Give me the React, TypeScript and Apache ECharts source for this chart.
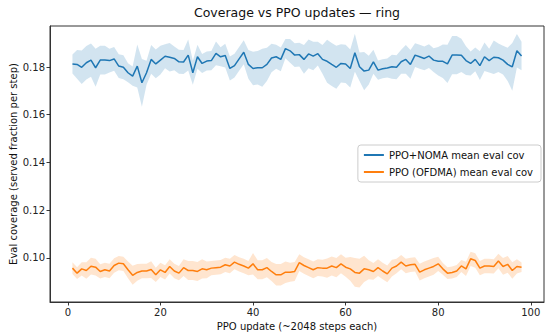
import React, { useEffect, useRef } from "react";
import * as echarts from "echarts";

const updates: number[] = Array.from({ length: 98 }, (_, i) => i + 1);

const nomaMean: number[] = [
  0.1813, 0.1811, 0.1799, 0.1818, 0.1829, 0.1797, 0.1829, 0.1829, 0.1827, 0.1834,
  0.1804, 0.1799, 0.1776, 0.1762, 0.1804, 0.1734, 0.1776, 0.1832, 0.1813, 0.1829,
  0.1845, 0.1841, 0.1836, 0.1822, 0.1821, 0.185, 0.1776, 0.1843, 0.1815, 0.1825,
  0.1827, 0.1857, 0.1843, 0.1848, 0.1794, 0.1806, 0.1834, 0.1862, 0.1811, 0.1794,
  0.1797, 0.1797, 0.1811, 0.1838, 0.1843, 0.1832, 0.1877, 0.1868, 0.185, 0.1852,
  0.1832, 0.1855, 0.1846, 0.1856, 0.1832, 0.1824, 0.1811, 0.1799, 0.1815, 0.1813,
  0.1794, 0.186, 0.1801, 0.1783, 0.1787, 0.1822, 0.1787, 0.1793, 0.1796, 0.1801,
  0.1799, 0.1822, 0.1832, 0.1811, 0.185, 0.1843, 0.1836, 0.1846, 0.1829, 0.1824,
  0.1824, 0.1813, 0.185, 0.185, 0.1849, 0.1827, 0.1815, 0.1832, 0.1806, 0.1843,
  0.1827, 0.1841, 0.1839, 0.1829, 0.1811, 0.1801, 0.1868, 0.1846,
];

const nomaStd: number[] = [
  0.004, 0.006, 0.007, 0.007, 0.007, 0.008, 0.006, 0.006, 0.005, 0.005,
  0.005, 0.005, 0.004, 0.004, 0.009, 0.01, 0.005, 0.006, 0.006, 0.006,
  0.005, 0.006, 0.005, 0.005, 0.005, 0.0065, 0.005, 0.005, 0.004, 0.004,
  0.004, 0.005, 0.004, 0.005, 0.005, 0.005, 0.005, 0.005, 0.006, 0.007,
  0.007, 0.008, 0.007, 0.006, 0.005, 0.005, 0.004, 0.005, 0.005, 0.005,
  0.006, 0.006, 0.006, 0.005, 0.006, 0.009, 0.009, 0.009, 0.008, 0.008,
  0.008, 0.008, 0.006, 0.008, 0.006, 0.005, 0.004, 0.004, 0.004, 0.005,
  0.005, 0.005, 0.006, 0.006, 0.005, 0.005, 0.005, 0.005, 0.005, 0.006,
  0.007, 0.008, 0.008, 0.008, 0.007, 0.006, 0.005, 0.005, 0.006, 0.006,
  0.005, 0.007, 0.006, 0.006, 0.007, 0.01, 0.007, 0.006,
];

const ofdmaMean: number[] = [
  0.0957, 0.0936, 0.0954, 0.0947, 0.0965, 0.0961, 0.0943, 0.095, 0.0945, 0.0968,
  0.0978, 0.0975, 0.095, 0.0927, 0.0939, 0.0945, 0.0945, 0.0951, 0.0929, 0.095,
  0.0939, 0.0964, 0.0945, 0.0936, 0.0959, 0.0947, 0.0947, 0.0943, 0.0954, 0.095,
  0.0957, 0.0959, 0.0961, 0.0971, 0.0966, 0.0982, 0.0973, 0.0966, 0.0957, 0.0975,
  0.095, 0.095, 0.0959, 0.0943, 0.0929, 0.0929, 0.094, 0.094, 0.0943, 0.098,
  0.0968, 0.0959, 0.095, 0.0959, 0.0957, 0.0957, 0.0966, 0.0959, 0.0975, 0.0961,
  0.0954, 0.0939, 0.0936, 0.0954, 0.095, 0.0943, 0.0959, 0.0945, 0.0933, 0.0957,
  0.0966, 0.0982, 0.0966, 0.0971, 0.0973, 0.094, 0.095, 0.0957, 0.0964, 0.0975,
  0.0954, 0.0936, 0.0939, 0.0945, 0.0966, 0.0954, 0.0996, 0.0989, 0.0957, 0.0966,
  0.0966, 0.0964, 0.0987, 0.0964, 0.0973, 0.0947, 0.0964, 0.0961,
];

const ofdmaStd: number[] = [
  0.0025, 0.0025, 0.0028, 0.0035, 0.0035, 0.0035, 0.003, 0.003, 0.003, 0.003,
  0.003, 0.003, 0.0035, 0.004, 0.0035, 0.003, 0.003, 0.0035, 0.003, 0.003,
  0.003, 0.003, 0.003, 0.003, 0.0035, 0.004, 0.004, 0.004, 0.004, 0.0035,
  0.003, 0.003, 0.003, 0.003, 0.003, 0.003, 0.003, 0.003, 0.003, 0.0045,
  0.004, 0.004, 0.004, 0.004, 0.0045, 0.0045, 0.0045, 0.004, 0.004, 0.0035,
  0.0035, 0.0035, 0.0035, 0.0035, 0.0035, 0.004, 0.004, 0.004, 0.004, 0.004,
  0.005, 0.006, 0.006, 0.0055, 0.004, 0.0035, 0.0035, 0.0035, 0.0035, 0.0035,
  0.003, 0.003, 0.003, 0.003, 0.003, 0.0035, 0.0035, 0.0035, 0.0035, 0.003,
  0.0025, 0.0025, 0.0025, 0.0025, 0.0025, 0.003, 0.003, 0.003, 0.003, 0.003,
  0.003, 0.003, 0.003, 0.0035, 0.0035, 0.0035, 0.003, 0.002,
];

const xTicks: number[] = [0, 20, 40, 60, 80, 100];
const yTicks: number[] = [0.1, 0.12, 0.14, 0.16, 0.18];

const NOMA_NAME = "PPO+NOMA mean eval cov";
const OFDMA_NAME = "PPO (OFDMA) mean eval cov";
const BLUE = "#1f77b4";
const ORANGE = "#ff7f0e";
const FONT = "DejaVu Sans";

function bandSeries(mean: number[], std: number[], fill: string) {
  const rows = updates.map((x, i) => [x, mean[i] - std[i], mean[i] + std[i]]);
  return {
    type: "custom",
    silent: true,
    z: 1,
    data: [0],
    renderItem: (_params: any, api: any) => {
      const upper = rows.map((r) => api.coord([r[0], r[2]]));
      const lower = rows.map((r) => api.coord([r[0], r[1]])).reverse();
      return {
        type: "polygon",
        shape: { points: upper.concat(lower) },
        style: { fill, stroke: "none" },
      };
    },
  };
}

export default function App() {
  const ref = useRef<HTMLDivElement>(null);
  useEffect(() => {
    if (!ref.current) return;
    const chart = echarts.init(ref.current, undefined, { renderer: "svg" });
    const tickStyle = { show: true, inside: false, length: 3.5, lineStyle: { color: "#222", width: 0.9 } };
    const axisLine = { show: true, onZero: false, lineStyle: { color: "#333", width: 1 } };
    chart.setOption({
      animation: false,
      textStyle: { fontFamily: FONT },
      grid: {
        left: 50,
        right: 6,
        top: 26,
        bottom: 34,
        containLabel: false,
        outerBoundsMode: "none",
        show: true,
        borderColor: "#333",
        borderWidth: 1,
        backgroundColor: "transparent",
      },
      graphic: [
        {
          type: "text",
          x: 297,
          y: 12,
          style: {
            text: "Coverage vs PPO updates \u2014 ring",
            font: `12.5px "${FONT}"`,
            fill: "#111",
            textAlign: "center",
            textVerticalAlign: "middle",
          },
        },
      ],
      legend: {
        data: [NOMA_NAME, OFDMA_NAME],
        orient: "vertical",
        right: 9,
        top: 145,
        itemWidth: 20,
        itemHeight: 2,
        itemGap: 7,
        icon: "rect",
        padding: [5, 8, 5, 6],
        borderColor: "#ccc",
        borderWidth: 1,
        borderRadius: 3,
        backgroundColor: "rgba(255,255,255,0.85)",
        textStyle: { fontSize: 10, color: "#111", fontFamily: FONT },
      },
      xAxis: {
        type: "value",
        min: -3.85,
        max: 102.85,
        axisLine,
        splitLine: { show: false },
        axisTick: { ...tickStyle, customValues: xTicks },
        axisLabel: { customValues: xTicks, fontSize: 10, color: "#222", margin: 5, fontFamily: FONT },
        name: "PPO update (~2048 steps each)",
        nameLocation: "middle",
        nameGap: 19,
        nameMoveOverlap: false,
        nameTextStyle: { fontSize: 10, color: "#111", fontFamily: FONT },
      },
      yAxis: {
        type: "value",
        min: 0.0815,
        max: 0.1972,
        axisLine,
        splitLine: { show: false },
        axisTick: { ...tickStyle, customValues: yTicks },
        axisLabel: {
          customValues: yTicks,
          fontSize: 10,
          color: "#222",
          margin: 5,
          fontFamily: FONT,
          formatter: (v: number) => v.toFixed(2),
        },
        name: "Eval coverage (served fraction per step)",
        nameLocation: "middle",
        nameGap: 32,
        nameMoveOverlap: false,
        nameTextStyle: { fontSize: 10, color: "#111", fontFamily: FONT },
      },
      series: [
        bandSeries(nomaMean, nomaStd, "rgba(31,119,180,0.2)"),
        bandSeries(ofdmaMean, ofdmaStd, "rgba(255,127,14,0.2)"),
        {
          name: NOMA_NAME,
          type: "line",
          data: updates.map((x, i) => [x, nomaMean[i]]),
          symbol: "none",
          lineStyle: { color: BLUE, width: 1.5 },
          itemStyle: { color: BLUE },
          z: 3,
        },
        {
          name: OFDMA_NAME,
          type: "line",
          data: updates.map((x, i) => [x, ofdmaMean[i]]),
          symbol: "none",
          lineStyle: { color: ORANGE, width: 1.5 },
          itemStyle: { color: ORANGE },
          z: 3,
        },
      ],
    });
    return () => chart.dispose();
  }, []);
  return <div ref={ref} style={{ width: 550, height: 336, position: "absolute", left: 0, top: 0 }} />;
}
